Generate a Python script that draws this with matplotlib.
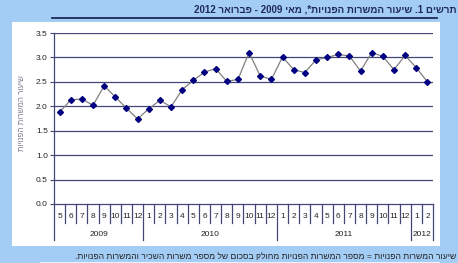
import re
import matplotlib
matplotlib.use("Agg")
import matplotlib.pyplot as plt
from matplotlib.patches import Rectangle
from matplotlib.lines import Line2D
import matplotlib.transforms as mtransforms

plt.rcParams['font.family'] = ['Liberation Sans', 'DejaVu Sans']

# ---- data ----
months = ["5", "6", "7", "8", "9", "10", "11", "12",
          "1", "2", "3", "4", "5", "6", "7", "8", "9", "10", "11", "12",
          "1", "2", "3", "4", "5", "6", "7", "8", "9", "10", "11", "12",
          "1", "2"]
years = ["2009", "2010", "2011", "2012"]
year_counts = [8, 12, 12, 2]
values = [1.88, 2.13, 2.15, 2.02, 2.42, 2.19, 1.96, 1.74,
          1.95, 2.12, 1.99, 2.34, 2.53, 2.70, 2.77, 2.51, 2.55, 3.10, 2.62, 2.55,
          3.01, 2.75, 2.69, 2.95, 3.00, 3.06, 3.03, 2.72, 3.10, 3.02, 2.75, 3.04,
          2.79, 2.50]
yticks = [0.0, 0.5, 1.0, 1.5, 2.0, 2.5, 3.0, 3.5]

title = "תרשים 1. שיעור המשרות הפנויות*, מאי 2009 - פברואר 2012"
ylabel = "שיעור המשרות הפנויות"
footnote = "שיעור המשרות הפנויות = מספר המשרות הפנויות מחולק בסכום של מספר משרות השכיר והמשרות הפנויות."


def vis(s):
    """Convert logical-order Hebrew text to visual order for LTR rendering."""
    r = s[::-1]
    return re.sub(r'\d+', lambda m: m.group(0)[::-1], r)


W, H = 458, 263
fig = plt.figure(figsize=(W / 100, H / 100), dpi=100)
fig.patch.set_facecolor('#A3CDF5')

navy = '#1F2A5C'
grid_c = '#45457A'

# white panel
fig.add_artist(Rectangle((12 / W, 1 - 246 / H), 428 / W, 224 / H,
                         transform=fig.transFigure, facecolor='white',
                         edgecolor='none', zorder=0))
# thin light strip at bottom
fig.add_artist(Rectangle((40 / W, 0), 400 / W, 1.2 / H,
                         transform=fig.transFigure, facecolor='#E8F2FC',
                         edgecolor='none', zorder=0))
# title + underline
fig.text(457 / W, 1 - 9 / H, vis(title), ha='right', va='center',
         fontsize=7.0, fontweight='bold', color=navy)
fig.add_artist(Line2D([52 / W, 437 / W], [1 - 18 / H, 1 - 18 / H],
                      transform=fig.transFigure, color=navy, lw=1.3))
# footnote
fig.text(456 / W, 1 - 257.5 / H, vis(footnote), ha='right', va='center',
         fontsize=6.1, color='#222222')
# y label
fig.text(23 / W, 1 - 113 / H, vis(ylabel), rotation=90, ha='center',
         va='center', fontsize=5.8, color='#7f7f8f')

ax = fig.add_axes([54 / W, 1 - 204 / H, 379 / W, 171 / H])
ax.set_facecolor('white')
x = list(range(len(values)))
ax.plot(x, values, color='#808080', lw=0.9, marker='D', markersize=3,
        markerfacecolor='#000080', markeredgecolor='#000080', zorder=3)

ax.set_xlim(-0.5, len(values) - 0.5)
ax.set_ylim(0, 3.5)
ax.set_yticks(yticks)
ax.set_yticklabels([f"{v:.1f}" for v in yticks], fontsize=6, color='#222222')
ax.tick_params(axis='y', length=3, width=0.8, color=grid_c, pad=1.5)
ax.set_xticks([])
for v in yticks[1:]:
    ax.axhline(v, color=grid_c, lw=0.9, zorder=1)

for side in ['top', 'right']:
    ax.spines[side].set_visible(False)
ax.spines['left'].set_color(grid_c)
ax.spines['bottom'].set_color(grid_c)
ax.spines['left'].set_linewidth(0.9)
ax.spines['bottom'].set_linewidth(0.9)

trans = mtransforms.blended_transform_factory(ax.transData, ax.transAxes)
month_drop = -19 / 171
year_drop = -36 / 171

# year boundaries
bounds = [-0.5]
for c in year_counts:
    bounds.append(bounds[-1] + c)

for i, m in enumerate(months):
    ax.text(i, -12 / 171, m, transform=trans, ha='center', va='center',
            fontsize=6, color='#222222', clip_on=False)
for b in range(len(months) + 1):
    xb = b - 0.5
    drop = year_drop if xb in bounds else month_drop
    ax.add_line(Line2D([xb, xb], [0, drop], transform=trans, color=grid_c,
                       lw=0.9, clip_on=False))
for j, yname in enumerate(years):
    xc = (bounds[j] + bounds[j + 1]) / 2
    ax.text(xc, -31 / 171, yname, transform=trans, ha='center', va='center',
            fontsize=6, color='#222222', clip_on=False)

fig.savefig("out.png", dpi=100, facecolor=fig.get_facecolor())
